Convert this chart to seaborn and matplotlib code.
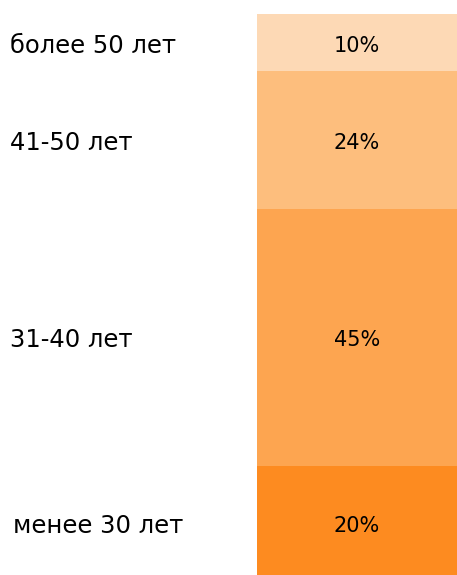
import matplotlib
matplotlib.use("Agg")
import matplotlib.pyplot as plt
import matplotlib.transforms as mtransforms
import seaborn as sns
import pandas as pd
import numpy as np

categories = ["менее 30 лет", "31-40 лет", "41-50 лет", "более 50 лет"]
values = [20, 45, 24, 10]
value_labels = ["20%", "45%", "24%", "10%"]
colors = ["#FD8B20", "#FDA550", "#FDBE7D", "#FDD9B5"]

sns.set_theme(style="white")
plt.rcParams['font.family'] = ['DejaVu Sans']

W, H = 457, 575
fig = plt.figure(figsize=(W / 100, H / 100), dpi=100)
# axes top at y=14px from top, extends slightly below the figure bottom
ax_top, ax_bottom = 14, 580.5
ax = fig.add_axes([257 / W, (H - ax_bottom) / H, 200 / W, (ax_bottom - ax_top) / H])

cum = np.cumsum(values)
df = pd.DataFrame({"x": ["a"] * len(values), "top": cum, "cat": categories})

# draw cumulative bars from largest to smallest so they stack visually
for i in range(len(values) - 1, -1, -1):
    sns.barplot(data=df.iloc[[i]], x="x", y="top", color=colors[i],
                width=1.0, ax=ax, saturation=1, linewidth=0)

ax.set_xlim(-0.5, 0.5)
ax.set_ylim(0, cum[-1])
ax.axis("off")

bottoms = cum - np.array(values)
centers = bottoms + np.array(values) / 2
label_x = [13, 10, 10, 10]
shift = mtransforms.ScaledTranslation(0, -3 / 100, fig.dpi_scale_trans)
trans = mtransforms.blended_transform_factory(fig.transFigure, ax.transData) + shift
for c, lab, vl, lx in zip(centers, categories, value_labels, label_x):
    ax.text(0, c, vl, ha="center", va="center", fontsize=15, color="black",
            transform=ax.transData + shift)
    ax.text(lx / W, c, lab, transform=trans, ha="left", va="center",
            fontsize=17.5, color="black")

fig.savefig("out.png", dpi=100)
